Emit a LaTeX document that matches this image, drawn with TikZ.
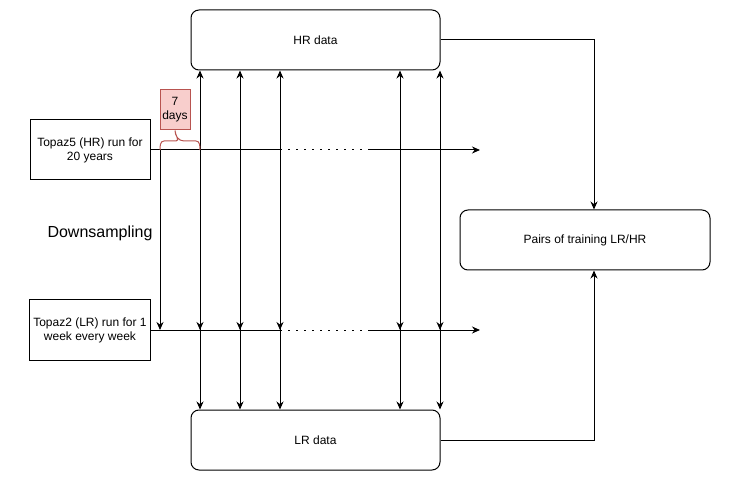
\documentclass[tikz,border=0pt]{standalone}
\usepackage{fontspec}
\setmainfont{Liberation Sans}
\usetikzlibrary{positioning}
\usetikzlibrary{calc}
\usetikzlibrary{arrows.meta}
\definecolor{notefill}{HTML}{F8CECC}
\definecolor{notedraw}{HTML}{B85450}
\newcommand{\txt}{\fontsize{12}{14}\selectfont}
\tikzset{
  databox/.style={draw, rounded corners=8pt, minimum width=249pt, minimum height=60pt, font=\txt},
  runbox/.style={draw, minimum width=120pt, minimum height=60pt, align=center, font=\txt},
  arr/.style={-{Stealth[length=8pt,width=7pt]}},
  dotline/.style={dash pattern=on 1.5pt off 6.5pt},
}

\begin{document}
\begin{tikzpicture}[x=1pt, y=-1pt, line width=1pt]
    \useasboundingbox (0,0) rectangle (732,492);
    \node[databox] (HR) at (315.5,40) {HR data};
    \node[databox] (LR) at (315.5,440) {LR data};
    \node[databox, minimum width=250pt] (P) at (585,240) {Pairs of training LR/HR};
    \node[runbox] (T5) at (90,150) {Topaz5 (HR) run for\\20 years};
    \node[runbox] (T2) at (90,330) {Topaz2 (LR) run for 1\\week every week};
    \node[font=\fontsize{16}{19}\selectfont] (DS) at (100,233) {Downsampling};
    \node[draw=notedraw, fill=notefill, minimum width=30pt, minimum height=40pt,
      inner sep=1pt, align=center, font=\txt] (N) at (175,110) {7\\days};

    % time lines
    \path (280,150) coordinate (hrA) ++ (90,0) coordinate (hrB) ++ (110,0) coordinate (hrEnd);
    \path (280,330) coordinate (lrA) ++ (90,0) coordinate (lrB) ++ (110,0) coordinate (lrEnd);
    \draw (T5.east) -- (hrA);
    \draw[dotline] (hrA) -- (hrB);
    \draw[arr] (hrB) -- (hrEnd);
    \draw (T2.east) -- (lrA);
    \draw[dotline] (lrA) -- (lrB);
    \draw[arr] (lrB) -- (lrEnd);

    % downsampling
    \coordinate (ds) at (160,330);
    \draw[arr] (ds |- T5.east) -- (ds);

    % weekly links
    \foreach \x in {200,240,280,400,440}{
      \coordinate (w\x) at (\x,330);
      \draw[arr] (w\x |- T5.east) -- (w\x);
      \draw[{Stealth[length=8pt,width=7pt]}-{Stealth[length=8pt,width=7pt]}]
        (HR.south -| w\x) -- (LR.north -| w\x);
    }

    % brace
    \coordinate (b1) at (160,150);
    \coordinate (b2) at (200,150);
    \draw[notedraw] (b1) to[out=90,in=180] (164,141) -- (176,141) to[out=0,in=-90] (N.south)
      to[out=-90,in=180] (184,141) -- (196,141) to[out=0,in=90] (b2);

    % pairs
    \coordinate (pin) at (594,240);
    \draw[arr] (HR.east) -| (pin |- P.north);
    \draw[arr] (LR.east) -| (pin |- P.south);
\end{tikzpicture}
\end{document}
